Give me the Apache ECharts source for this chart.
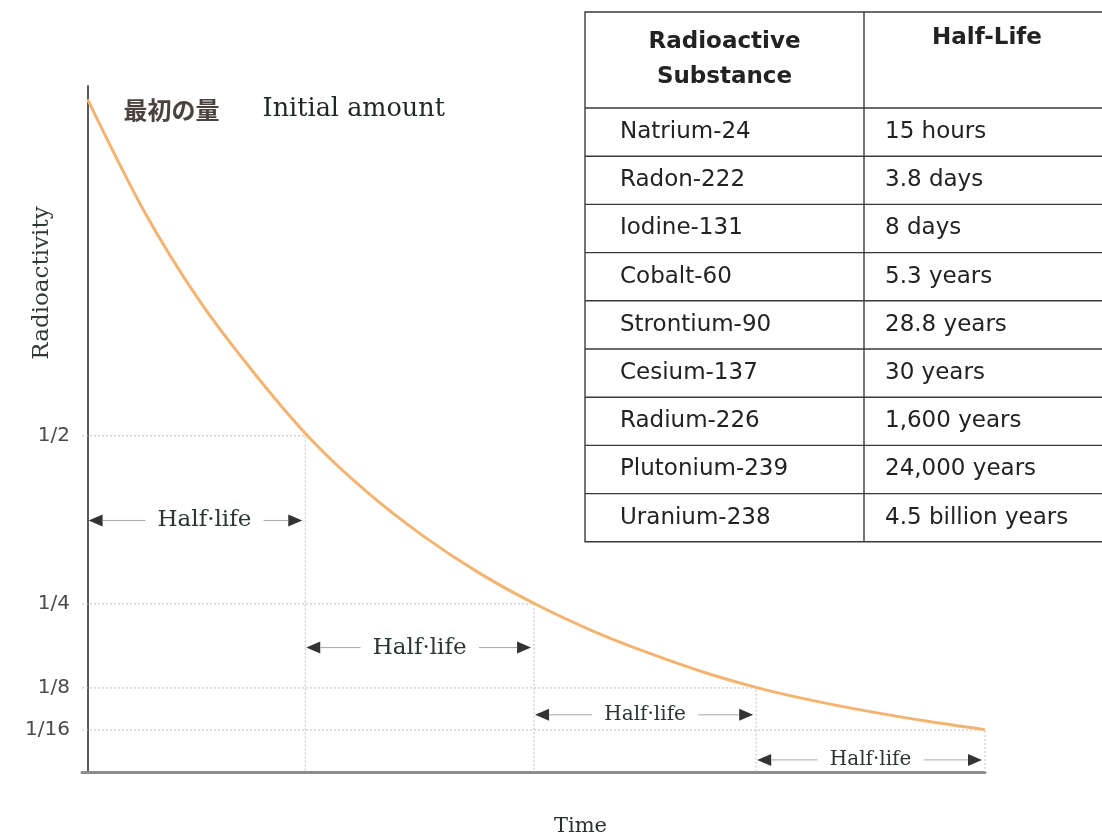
<!DOCTYPE html>
<html><head><meta charset="utf-8">
<script src="https://cdn.jsdelivr.net/npm/echarts@6/dist/echarts.min.js"></script>
<style>html,body{margin:0;padding:0;background:#fff}#c{width:1102px;height:839px}</style>
</head><body><div id="c"></div>
<script>
// ---- data ----
const curveTimes  = [0, 0.25, 0.5, 0.75, 1.0, 1.25, 1.5, 1.75, 2.0, 2.25, 2.5, 2.75, 3.0, 3.25, 3.5, 3.75, 4.0];
const curveValues = [1.0, 0.835, 0.70, 0.59, 0.493, 0.415, 0.35, 0.295, 0.249, 0.21, 0.177, 0.148, 0.124, 0.105, 0.089, 0.075, 0.063];
const levelValues = [0.5, 0.25, 0.125, 0.0625];
const levelLabels = ['1/2', '1/4', '1/8', '1/16'];
const halfLifeTimes = [0.97, 1.99, 2.98, 4.0];
const spanStarts = [0, 0.97, 1.99, 2.98];
const arrowLevels = [0.374, 0.185, 0.085, 0.018];
const spanLabel = 'Half\u00b7life';
const initialLabelJa = '最初の量';
const initialLabelEn = 'Initial amount';
const xAxisName = 'Time';
const yAxisName = 'Radioactivity';
const tableHeaders = ['Radioactive\nSubstance', 'Half-Life'];
const substances = ['Natrium-24', 'Radon-222', 'Iodine-131', 'Cobalt-60', 'Strontium-90', 'Cesium-137', 'Radium-226', 'Plutonium-239', 'Uranium-238'];
const halfLives = ['15 hours', '3.8 days', '8 days', '5.3 years', '28.8 years', '30 years', '1,600 years', '24,000 years', '4.5 billion years'];

// ---- styles ----
const SERIF = '"DejaVu Serif", "Liberation Serif", serif';
const SANS = '"DejaVu Sans", "Liberation Sans", sans-serif';
const curveColor = '#f2b470';

const chart = echarts.init(document.getElementById('c'));

// drop lines: horizontal from the axis to the curve, then down to the time axis
const dropSeries = levelValues.map((v, i) => ({
  type: 'line', silent: true, symbol: 'none', z: 1,
  data: [[-0.025, v], [halfLifeTimes[i], v], [halfLifeTimes[i], 0]],
  lineStyle: { color: '#bcc0c0', width: 1, type: [2, 2] }
}));

// table as graphic elements
const tX = 585, tDiv = 864, tR = 1112, tTop = 12, tHead = 108, rowH = 48.2;
const tableEls = [];
const tBottom = tHead + rowH * substances.length;
const lineStyle = { stroke: '#3a3a3a', lineWidth: 1.4 };
tableEls.push({ type: 'rect', shape: { x: tX, y: tTop, width: tR - tX, height: tBottom - tTop }, style: { fill: '#fff', stroke: '#3a3a3a', lineWidth: 1.4 } });
tableEls.push({ type: 'line', shape: { x1: tDiv, y1: tTop, x2: tDiv, y2: tBottom }, style: lineStyle });
for (let i = 0; i < substances.length; i++) {
  const y = tHead + rowH * i;
  tableEls.push({ type: 'line', shape: { x1: tX, y1: y, x2: tR, y2: y }, style: lineStyle });
  const cy = y + rowH / 2;
  tableEls.push({ type: 'text', style: { text: substances[i], x: tX + 35, y: cy, align: 'left', verticalAlign: 'middle', font: '23px ' + SANS, fill: '#222' } });
  tableEls.push({ type: 'text', style: { text: halfLives[i], x: tDiv + 21, y: cy, align: 'left', verticalAlign: 'middle', font: '23px ' + SANS, fill: '#222' } });
}
tableEls.push({ type: 'text', style: { text: tableHeaders[0], x: (tX + tDiv) / 2, y: (tTop + tHead) / 2, align: 'center', verticalAlign: 'middle', font: 'bold 23px ' + SANS, fill: '#222', lineHeight: 35 } });
tableEls.push({ type: 'text', style: { text: tableHeaders[1], x: 987, y: 38, align: 'center', verticalAlign: 'middle', font: 'bold 23px ' + SANS, fill: '#222' } });

const option = {
  backgroundColor: '#ffffff',
  animation: false,
  grid: { left: 82, right: 117, top: 86, bottom: 67, containLabel: false, outerBoundsMode: 'none' },
  xAxis: {
    type: 'value', min: -0.025, max: 4,
    name: xAxisName, nameLocation: 'middle', nameGap: 44,
    nameTextStyle: { fontFamily: SERIF, fontSize: 21, color: '#2a3030', padding: [0, 0, 0, 94] },
    axisLine: { show: true, lineStyle: { color: '#8c8c8c', width: 3 } },
    axisTick: { show: false }, axisLabel: { show: false }, splitLine: { show: false }
  },
  yAxis: {
    type: 'value', min: 0, max: 1.02,
    name: yAxisName, nameLocation: 'middle', nameRotate: 90, nameGap: 28, nameMoveOverlap: false,
    nameTextStyle: { fontFamily: SERIF, fontSize: 23, color: '#2f3838', padding: [0, 0, 0, 292] },
    axisLine: { show: true, lineStyle: { color: '#5a5a5a', width: 2 } },
    axisTick: { show: false },
    axisLabel: {
      show: true, customValues: levelValues, margin: 12,
      fontFamily: SANS, fontSize: 20, color: '#4a4a4a',
      formatter: v => { const i = levelValues.indexOf(v); return i >= 0 ? levelLabels[i] : ''; }
    },
    splitLine: { show: false }
  },
  series: [
    ...dropSeries,
    {
      type: 'line', name: 'Radioactivity', smooth: 0.3, symbol: 'none', z: 3,
      data: curveTimes.map((t, i) => [t, curveValues[i]]),
      lineStyle: { color: curveColor, width: 3 }
    },
    {
      type: 'scatter', silent: true, symbolSize: 0, z: 4,
      itemStyle: { color: curveColor, opacity: 1 },
      data: [[curveTimes[0], curveValues[0]]],
      label: {
        show: true, position: 'right', distance: 36, offset: [0, 10], opacity: 1,
        formatter: '{ja|' + initialLabelJa + '}{gap|}{en|' + initialLabelEn + '}',
        rich: {
          ja: { fontFamily: '"Noto Sans CJK JP", sans-serif', fontSize: 24, fontWeight: 'bold', color: '#4a423c' },
          gap: { width: 43 },
          en: { fontFamily: SERIF, fontSize: 25.5, color: '#1f2626' }
        }
      }
    },
    {
      type: 'custom', silent: true, z: 5,
      data: spanStarts.map((s, i) => [s, halfLifeTimes[i], arrowLevels[i]]),
      encode: { x: [0, 1], y: 2 },
      renderItem: function (params, api) {
        const s = api.coord([api.value(0), api.value(2)]);
        const e = api.coord([api.value(1), api.value(2)]);
        const fs = params.dataIndex < 2 ? 23 : 20;
        const hw = fs * 2.05 + 12;
        const mid = (s[0] + e[0]) / 2 + (params.dataIndex === 0 ? 8 : 0);
        const tw = 14, th = 6, y = s[1];
        const x0 = s[0] + 1, x1 = e[0] - 3;
        return {
          type: 'group', children: [
            { type: 'polygon', shape: { points: [[x0, y], [x0 + tw, y - th], [x0 + tw, y + th]] }, style: { fill: '#333' } },
            { type: 'polygon', shape: { points: [[x1, y], [x1 - tw, y - th], [x1 - tw, y + th]] }, style: { fill: '#333' } },
            { type: 'line', shape: { x1: x0 + tw, y1: y, x2: mid - hw, y2: y }, style: { stroke: '#a8a8a8', lineWidth: 1 } },
            { type: 'line', shape: { x1: mid + hw, y1: y, x2: x1 - tw, y2: y }, style: { stroke: '#a8a8a8', lineWidth: 1 } },
            { type: 'text', style: { text: spanLabel, x: mid, y: y, align: 'center', verticalAlign: 'middle', font: fs + 'px ' + SERIF, fill: '#2a3535' } }
          ]
        };
      }
    }
  ],
  graphic: tableEls
};
chart.setOption(option);
</script>
</body></html>
